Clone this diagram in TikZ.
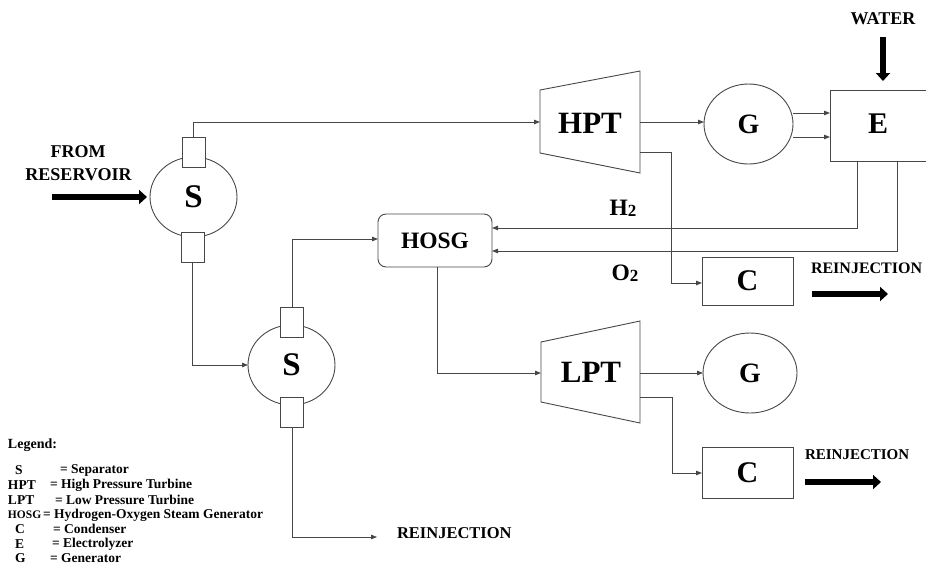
\documentclass[tikz,border=0pt]{standalone}
\usepackage{fontspec}
\setmainfont{Liberation Serif}
\usetikzlibrary{arrows.meta,shapes.geometric}
\colorlet{ln}{black!72}
\newcommand{\fs}[1]{\fontsize{#1}{#1}\selectfont\bfseries}
\tikzset{
  every node/.style={inner sep=0pt, outer sep=0pt, text=black},
  conn/.style={draw=ln, line width=0.9pt, -{Triangle[length=6pt,width=4.5pt]}},
  wire/.style={draw=ln, line width=0.9pt},
  bigarrow/.style={draw=black, fill=black, line width=6pt, -{Triangle[length=8pt,width=14pt]}},
  sep/.style={ellipse, draw=ln, line width=0.9pt, minimum width=87pt, minimum height=80pt, font=\fs{33}},
  gen/.style={ellipse, draw=ln, line width=0.9pt, minimum width=89pt, minimum height=80pt, font=\fs{28}},
  port/.style={rectangle, draw=ln, line width=0.9pt, fill=white, minimum width=23pt, minimum height=30pt},
  boxn/.style={rectangle, draw=ln, line width=0.9pt},
  turb/.style={draw=ln, line width=0.9pt},
  lbl/.style={font=\fs{18}},
  leg/.style={anchor=west, font=\fs{13.5}},
}
\begin{document}
\begin{tikzpicture}[x=1pt,y=-1pt]
\useasboundingbox (0,0) rectangle (926,566);
\clip (0,0) rectangle (926,566);

% Separators
\node[sep] (s1) at (193.5,197) {S};
\node[port] (s1t) at (193.5,152) {};
\node[port] (s1b) at (192.5,247) {};
\node[sep] (s2) at (291.5,365) {S};
\node[port] (s2t) at (292,322) {};
\node[port] (s2b) at (292,412.5) {};

% HOSG
\node[boxn, rounded corners=8pt, minimum width=114pt, minimum height=53pt, font=\fs{23.5}] (hosg) at (435,240.5) {HOSG};

% HPT turbine
\draw[turb] (540,90) -- (640,71) -- (640,173) -- (540,153) -- cycle;
\node[font=\fs{31}] (hpt) at (590,123) {HPT};
\coordinate (hptin) at (540,122);
\coordinate (hptout) at (640,122);
\coordinate (hptlow) at (640,152);

% LPT turbine
\draw[turb] (541,342) -- (640,321) -- (640,423) -- (541,402) -- cycle;
\node[font=\fs{31}] (lpt) at (591,372) {LPT};
\coordinate (lptin) at (541,373);
\coordinate (lptout) at (640,373);
\coordinate (lptlow) at (640,397);

% Generators
\node[gen] (g1) at (748.5,124) {G};
\node[gen, minimum width=94pt] (g2) at (750,373) {G};

% Electrolyzer
\node[boxn, minimum width=120pt, minimum height=71pt] (e) at (890,125.5) {};
\node[font=\fs{30}] (etxt) at (878,124) {E};

% Condensers
\node[boxn, minimum width=91pt, minimum height=48pt, font=\fs{30}] (c1) at (747.5,281) {C};
\node[boxn, minimum width=91pt, minimum height=51pt, font=\fs{30}] (c2) at (747.5,472.5) {C};

% Connectors
\draw[conn] (s1t.north) |- (hptin);
\draw[conn] (s1b.south) |- (s2.west);
\draw[conn] (s2t.north) |- (hosg.west |- 0,239);
\draw[conn] (hosg.south -| 437,0) |- (lptin);
\draw[conn] (hptout) -- (g1.west |- hptout);
\draw[conn] (hptlow) -| (671,283) -- (c1.west |- 0,283);
\coordinate (g1a) at (793,113);
\coordinate (g1b) at (793,137);
\draw[conn] (g1a) -- (e.west |- g1a);
\draw[conn] (g1b) -- (e.west |- g1b);
\draw[conn] (e.south -| 857,0) |- (hosg.east |- 0,228);
\draw[conn] (e.south -| 897,0) |- (hosg.east |- 0,251);
\draw[conn] (lptout) -- (g2.west);
\draw[conn] (lptlow) -| (672,473) -- (c2.west |- 0,473);
\coordinate (rein3) at (377,537);
\draw[conn] (s2b.south) |- (rein3);

% Thick arrows
\coordinate (resA) at (52,197);
\coordinate (resB) at (147,197);
\draw[bigarrow] (resA) -- (resB);
\coordinate (watA) at (883,37);
\coordinate (watB) at (883,81);
\draw[bigarrow] (watA) -- (watB);
\coordinate (r1A) at (812,294);
\coordinate (r1B) at (888,294);
\draw[bigarrow] (r1A) -- (r1B);
\coordinate (r2A) at (805,482);
\coordinate (r2B) at (881,482);
\draw[bigarrow] (r2A) -- (r2B);

% Labels
\node[lbl] (from) at (78,152) {FROM};
\node[lbl] (resv) at (78.5,175) {RESERVOIR};
\node[font=\fs{18}] (water) at (883,19) {WATER};
\node[font=\fs{23.5}] (h2) at (623,208) {H\raisebox{-0.05em}{\fontsize{17}{17}\selectfont 2}};
\node[font=\fs{23.5}] (o2) at (625,273) {O\raisebox{-0.05em}{\fontsize{17}{17}\selectfont 2}};
\node[anchor=west, font=\fs{16}] (rj1) at (811,268) {REINJECTION};
\node[anchor=west, font=\fs{15}] (rj2) at (805,455) {REINJECTION};
\node[anchor=west, font=\fs{16.5}] (rj3) at (397,533) {REINJECTION};

% Legend
\node[anchor=west, font=\fs{14}] (legt) at (8,445) {Legend:};
\node[leg] (l1a) at (15,470) {S};
\node[leg] (l1b) at (60,470) {= Separator};
\node[leg] (l2a) at (8,485) {HPT};
\node[leg] (l2b) at (50,485) {= High Pressure Turbine};
\node[leg] (l3a) at (8,500) {LPT};
\node[leg] (l3b) at (55,500) {= Low Pressure Turbine};
\node[leg, font=\fs{11.5}] (l4a) at (8,515) {HOSG};
\node[leg] (l4b) at (43,515) {= Hydrogen-Oxygen Steam Generator};
\node[leg] (l5a) at (15,529) {C};
\node[leg] (l5b) at (53,529) {= Condenser};
\node[leg] (l6a) at (15,544) {E};
\node[leg] (l6b) at (52,544) {= Electrolyzer};
\node[leg] (l7a) at (15,558) {G};
\node[leg] (l7b) at (50,558) {= Generator};
\end{tikzpicture}
\end{document}
